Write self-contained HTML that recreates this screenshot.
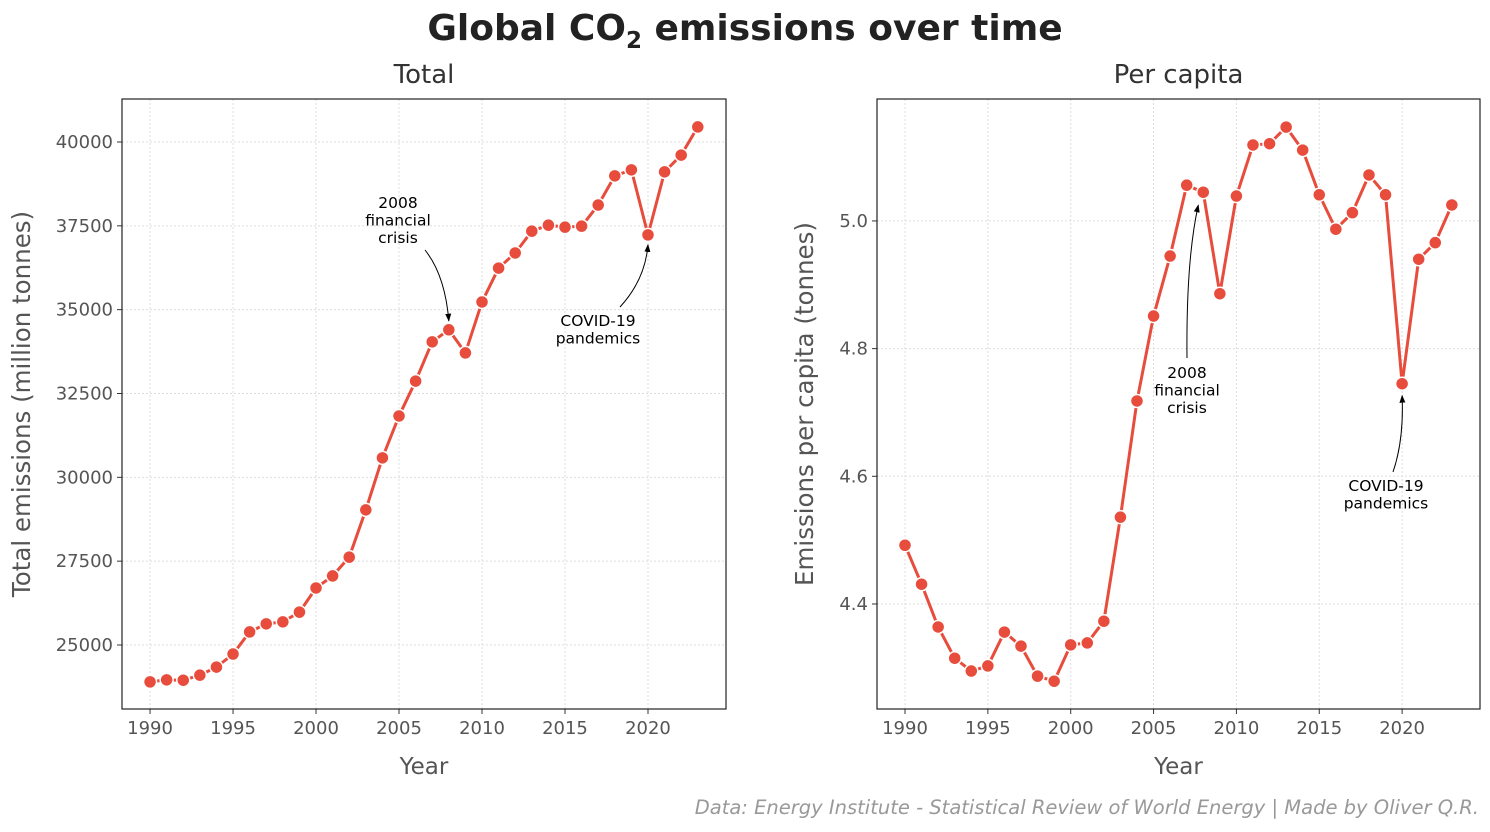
<!DOCTYPE html>
<html><head><meta charset="utf-8"><style>
body{margin:0;background:#fff;font-family:"DejaVu Sans","Liberation Sans",sans-serif;}
svg text{font-family:"DejaVu Sans","Liberation Sans",sans-serif;}
</style></head><body>
<svg id="c" width="1490" height="828" viewBox="0 0 1490 828">
<defs><marker id="ah" markerWidth="8" markerHeight="8" refX="7" refY="4" orient="auto"><path d="M0,1 L8,4 L0,7 z" fill="#000"/></marker></defs>
<text x="745" y="40" text-anchor="middle" font-size="36" font-weight="bold" fill="#222">Global CO<tspan font-size="23" dy="8">2</tspan><tspan dy="-8"> emissions over time</tspan></text>
<text x="1479" y="814" text-anchor="end" font-size="19.5" font-style="italic" fill="#999">Data: Energy Institute - Statistical Review of World Energy | Made by Oliver Q.R.</text>
</svg>
<script>
const years=[];for(let y=1990;y<=2023;y++)years.push(y);
const totalValues=[23900,23960,23950,24100,24340,24730,25390,25630,25690,25980,26700,27060,27620,29030,30580,31830,32870,34040,34400,33710,35230,36240,36690,37340,37520,37460,37490,38120,38990,39170,37230,39110,39610,40450];
const perCapitaValues=[4.492,4.431,4.364,4.315,4.295,4.303,4.356,4.334,4.287,4.279,4.336,4.339,4.373,4.536,4.718,4.851,4.945,5.056,5.045,4.886,5.039,5.119,5.121,5.147,5.111,5.041,4.987,5.013,5.072,5.041,4.745,4.940,4.966,5.025];
const xTicks=[1990,1995,2000,2005,2010,2015,2020];
const totalTicks=[25000,27500,30000,32500,35000,37500,40000];
const perCapitaTicks=[4.4,4.6,4.8,5.0];
const svg=document.getElementById('c');const NS='http://www.w3.org/2000/svg';
function mk(t,a,p){const e=document.createElementNS(NS,t);for(const k in a)e.setAttribute(k,a[k]);(p||svg).appendChild(e);return e;}
function panel(o){
 const g=mk('g',{});
 
 
 const X=v=>o.x0+(v-o.xmin)/(o.xmax-o.xmin)*(o.x1-o.x0);
 const Y=v=>o.y1-(v-o.ymin)/(o.ymax-o.ymin)*(o.y1-o.y0);
 xTicks.forEach(t=>{
  mk('line',{x1:X(t),x2:X(t),y1:o.y0,y2:o.y1,stroke:'#ddd','stroke-dasharray':'2,2','stroke-width':1},g);
  mk('line',{x1:X(t),x2:X(t),y1:o.y1,y2:o.y1+5,stroke:'#333'},g);
  const tx=mk('text',{x:X(t),y:o.y1+25,'text-anchor':'middle','font-size':18,fill:'#555'},g);tx.textContent=t;
  
  
 });
 o.ticks.forEach(t=>{
  mk('line',{x1:o.x0,x2:o.x1,y1:Y(t),y2:Y(t),stroke:'#ddd','stroke-dasharray':'2,2','stroke-width':1},g);
  mk('line',{x1:o.x0-5,x2:o.x0,y1:Y(t),y2:Y(t),stroke:'#333'},g);
  const tx=mk('text',{x:o.x0-9,y:Y(t)+6,'text-anchor':'end','font-size':18,fill:'#555'},g);tx.textContent=o.fmt(t);
  
  
 });
 mk('rect',{x:o.x0,y:o.y0,width:o.x1-o.x0,height:o.y1-o.y0,fill:'none',stroke:'#222','stroke-width':1.2},g);
 const pts=years.map((y,i)=>X(y)+','+Y(o.vals[i])).join(' ');
 const ln=mk('polyline',{points:pts,fill:'none',stroke:'#e74c3c','stroke-width':3,'stroke-linejoin':'round'},g);
 
 
 years.forEach((y,i)=>{const c=mk('circle',{cx:X(y),cy:Y(o.vals[i]),r:6.5,fill:'#e74c3c',stroke:'#fff','stroke-width':1.5},g);
  
  });
 const st=mk('text',{x:(o.x0+o.x1)/2,y:83,'text-anchor':'middle','font-size':26,fill:'#333'},g);st.textContent=o.title;
 
 
 const xl=mk('text',{x:(o.x0+o.x1)/2,y:774,'text-anchor':'middle','font-size':23,fill:'#555'},g);xl.textContent='Year';
 
 
 const yl=mk('text',{x:0,y:0,'text-anchor':'middle','font-size':24.5,fill:'#555',transform:`translate(${o.ylx},${(o.y0+o.y1)/2}) rotate(-90)`},g);yl.textContent=o.ylabel;
 
 
 o.ann.forEach(a=>{
  const t=mk('text',{x:a.tx,y:a.ty,'text-anchor':'middle','font-size':15.5,fill:'#000'},g);
  
  
  a.lines.forEach((l,k)=>{const s=mk('tspan',{x:a.tx,dy:k?17.5:0},t);s.textContent=l;});
  const yr=a.year,tx=X(yr),ty=Y(o.vals[years.indexOf(yr)])+a.off;
  mk('path',{d:`M${a.sx},${a.sy} Q${a.cx},${a.cy} ${tx+a.dx},${ty}`,fill:'none',stroke:'#000','stroke-width':1,'marker-end':'url(#ah)'},g);
 });
}
panel({name:'total-panel',x0:122,x1:726,y0:99,y1:709,xmin:1988.31,xmax:2024.7,ymin:23091,ymax:41282,vals:totalValues,ticks:totalTicks,fmt:t=>t,title:'Total',ylabel:'Total emissions (million tonnes)',ylx:30,
 ann:[{id:'financial-crisis',tx:398,ty:208,lines:['2008','financial','crisis'],year:2008,off:-9,dx:0,sx:425,sy:250,cx:445,cy:275},
      {id:'covid',tx:598,ty:326,lines:['COVID-19','pandemics'],year:2020,off:10,dx:0,sx:620,sy:307,cx:645,cy:280}]});
panel({name:'per-capita-panel',x0:877,x1:1480,y0:99,y1:709,xmin:1988.31,xmax:2024.7,ymin:4.2355,ymax:5.191,vals:perCapitaValues,ticks:perCapitaTicks,fmt:t=>t.toFixed(1),title:'Per capita',ylabel:'Emissions per capita (tonnes)',ylx:813,
 ann:[{id:'financial-crisis',tx:1187,ty:378,lines:['2008','financial','crisis'],year:2008,off:13,dx:-5,sx:1187,sy:358,cx:1186,cy:260},
      {id:'covid',tx:1386,ty:491,lines:['COVID-19','pandemics'],year:2020,off:12,dx:0,sx:1393,sy:472,cx:1404,cy:440}]});
</script>
</body></html>
